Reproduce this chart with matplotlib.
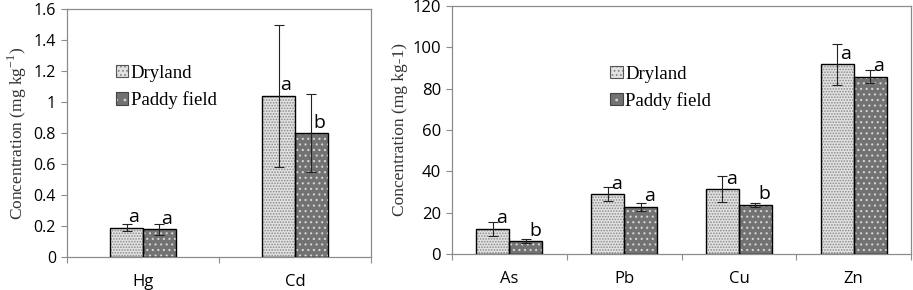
import matplotlib
matplotlib.use("Agg")
import matplotlib.pyplot as plt
import numpy as np
from matplotlib.patches import Patch

# ---- data ----
left_categories = ["Hg", "Cd"]
left_dryland = [0.19, 1.04]
left_dryland_err = [0.025, 0.46]
left_paddy = [0.18, 0.80]
left_paddy_err = [0.035, 0.25]
left_dry_letters = ["a", "a"]
left_paddy_letters = ["a", "b"]
left_yticks = [0, 0.2, 0.4, 0.6, 0.8, 1.0, 1.2, 1.4, 1.6]
left_yticklabels = ["0", "0.2", "0.4", "0.6", "0.8", "1", "1.2", "1.4", "1.6"]

right_categories = ["As", "Pb", "Cu", "Zn"]
right_dryland = [12.2, 29.0, 31.5, 91.8]
right_dryland_err = [3.5, 3.5, 6.2, 10.0]
right_paddy = [6.3, 22.8, 23.8, 85.8]
right_paddy_err = [0.8, 1.8, 1.0, 3.0]
right_dry_letters = ["a", "a", "a", "a"]
right_paddy_letters = ["b", "a", "b", "a"]
right_yticks = [0, 20, 40, 60, 80, 100, 120]

series_names = ["Dryland", "Paddy field"]

plt.rcParams["hatch.linewidth"] = 0.8

DRY_FACE, DRY_HATCH, DRY_PAT = "#e2e2e2", "#8a8a8a", "......"
PAD_FACE, PAD_HATCH, PAD_PAT = "#727272", "#d4d4d4", "..."
AXCOL = "#8c8c8c"
SERIF = ["Liberation Serif", "DejaVu Serif"]
SANS = ["Open Sans", "DejaVu Sans"]

fig = plt.figure(figsize=(9.13, 2.90), dpi=100)
axL = fig.add_axes([67/913, 1-257/290, 304/913, 248/290])
axR = fig.add_axes([452/913, 1-254/290, 459/913, 248/290])


def draw(ax, cats, dry, dry_err, pad, pad_err, dl, pl, width, ymax, yticks,
         yticklabels, ylabel, tick_fs, leg_anchor, letter_dx):
    x = np.arange(len(cats))
    xd = x - width/2
    xp = x + width/2
    ax.bar(xd, dry, width, color=DRY_FACE, edgecolor=DRY_HATCH, hatch=DRY_PAT, linewidth=0, zorder=2)
    ax.bar(xd, dry, width, fill=False, edgecolor="black", linewidth=1.0, zorder=3)
    ax.bar(xp, pad, width, color=PAD_FACE, edgecolor=PAD_HATCH, hatch=PAD_PAT, linewidth=0, zorder=2)
    ax.bar(xp, pad, width, fill=False, edgecolor="black", linewidth=1.0, zorder=3)
    ax.errorbar(xd, dry, yerr=dry_err, fmt="none", ecolor="#222222", elinewidth=0.8,
                capsize=3.5, capthick=0.8, zorder=4)
    ax.errorbar(xp, pad, yerr=pad_err, fmt="none", ecolor="#222222", elinewidth=0.8,
                capsize=3.5, capthick=0.8, zorder=4)
    for xi, v, t in zip(xd, dry, dl):
        ax.annotate(t, (xi, v), xytext=(letter_dx, 1.0), textcoords="offset points",
                    ha="left", va="bottom", fontsize=14, family=SANS, zorder=5)
    for xi, v, t in zip(xp, pad, pl):
        ax.annotate(t, (xi, v), xytext=(letter_dx, 1.0), textcoords="offset points",
                    ha="left", va="bottom", fontsize=14, family=SANS, zorder=5)
    ax.set_xlim(-0.5, len(cats) - 0.5)
    ax.set_ylim(0, ymax)
    ax.set_xticks(x)
    ax.set_xticklabels(cats, fontsize=12, family=SANS)
    ax.set_xticks(np.arange(len(cats) + 1) - 0.5, minor=True)
    ax.tick_params(axis="x", which="major", length=0, pad=12)
    ax.tick_params(axis="x", which="minor", length=4, direction="out", color=AXCOL, width=0.8)
    ax.set_yticks(yticks)
    ax.set_yticklabels(yticklabels, fontsize=tick_fs, family=SANS)
    ax.tick_params(axis="y", length=4, direction="out", color=AXCOL, width=0.8, pad=4)
    for s in ax.spines.values():
        s.set_color(AXCOL)
        s.set_linewidth(0.9)
    ax.set_ylabel(ylabel, fontsize=12.5, family=SERIF, color="#333333", labelpad=3)
    h_dry = (Patch(facecolor=DRY_FACE, edgecolor=DRY_HATCH, hatch="....", linewidth=0),
             Patch(fill=False, edgecolor="#555555", linewidth=0.8))
    h_pad = (Patch(facecolor=PAD_FACE, edgecolor=PAD_HATCH, hatch="..", linewidth=0),
             Patch(fill=False, edgecolor="#444444", linewidth=0.8))
    ax.legend([h_dry, h_pad], series_names, loc="upper left", bbox_to_anchor=leg_anchor,
              frameon=False, prop={"family": SERIF, "size": 13.5}, handlelength=0.65,
              handleheight=0.65, handletextpad=0.15, labelspacing=0.5, borderpad=0,
              borderaxespad=0)


draw(axL, left_categories, left_dryland, left_dryland_err, left_paddy, left_paddy_err,
     left_dry_letters, left_paddy_letters, 0.217, 1.6, left_yticks, left_yticklabels,
     "Concentration (mg kg$^{\\mathregular{-1}}$)", 11.5, (0.16, 0.775), 1.5)
draw(axR, right_categories, right_dryland, right_dryland_err, right_paddy, right_paddy_err,
     right_dry_letters, right_paddy_letters, 0.288, 120, right_yticks,
     [str(v) for v in right_yticks], "Concentration (mg kg-1)", 12, (0.345, 0.76), 2.5)

fig.savefig("out.png", dpi=100)
